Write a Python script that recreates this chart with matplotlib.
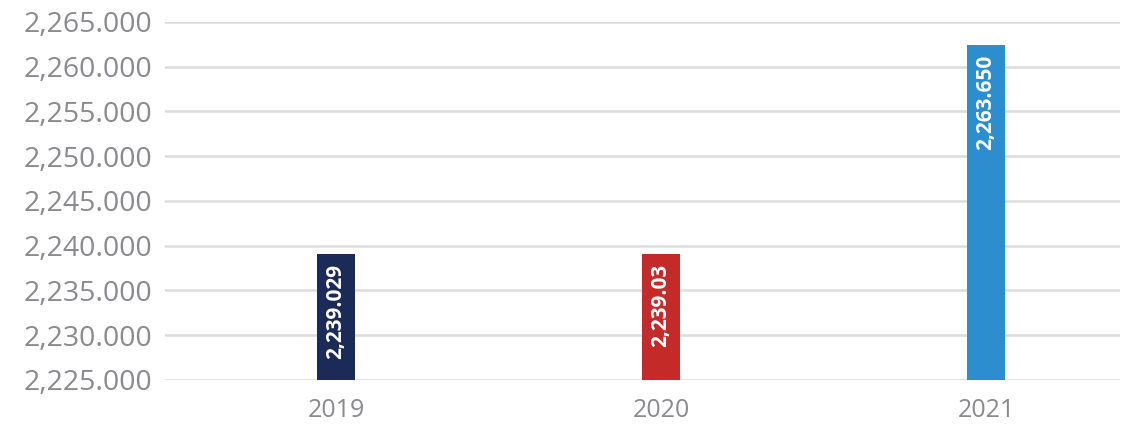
import matplotlib.pyplot as plt
from matplotlib.ticker import FuncFormatter

years = ["2019", "2020", "2021"]
heights = [2239.029, 2239.03, 2262.45]
bar_labels = ["2,239.029", "2,239.03", "2,263.650"]
colors = ["#1b2a56", "#c42a27", "#2d8ecf"]
yticks = [2225, 2230, 2235, 2240, 2245, 2250, 2255, 2260, 2265]

plt.rcParams['font.family'] = ['Open Sans', 'DejaVu Sans']

fig = plt.figure(figsize=(11.32, 4.26), dpi=100)
ax = fig.add_axes([165/1132, 1 - 380/426, (1120-165)/1132, (380-22)/426])

x = range(len(years))
ax.bar(x, [h - yticks[0] for h in heights], bottom=yticks[0], width=0.117,
       color=colors, zorder=3)

for i, (h, lab) in enumerate(zip(heights, bar_labels)):
    ax.annotate(lab, (i, h), xytext=(0, -7), textcoords="offset points",
                rotation=90, ha="center", va="top", color="white",
                fontsize=15, fontweight="bold", zorder=4)

ax.set_ylim(yticks[0], yticks[-1])
ax.set_xlim(-0.526, 2.412)
ax.set_yticks(yticks)
ax.yaxis.set_major_formatter(FuncFormatter(lambda v, p: f"{v:,.3f}"))
ax.set_xticks(list(x))
ax.set_xticklabels(years)
ax.grid(axis="y", color="#dcdcdc", linewidth=1.8, zorder=0)
for s in ax.spines.values():
    s.set_visible(False)
ax.tick_params(axis="y", length=0, pad=9, labelsize=20.5, labelcolor="#8a8a8f")
ax.tick_params(axis="x", length=0, pad=13, labelsize=18, labelcolor="#8a8a8f")

fig.savefig("out.png", dpi=100)
